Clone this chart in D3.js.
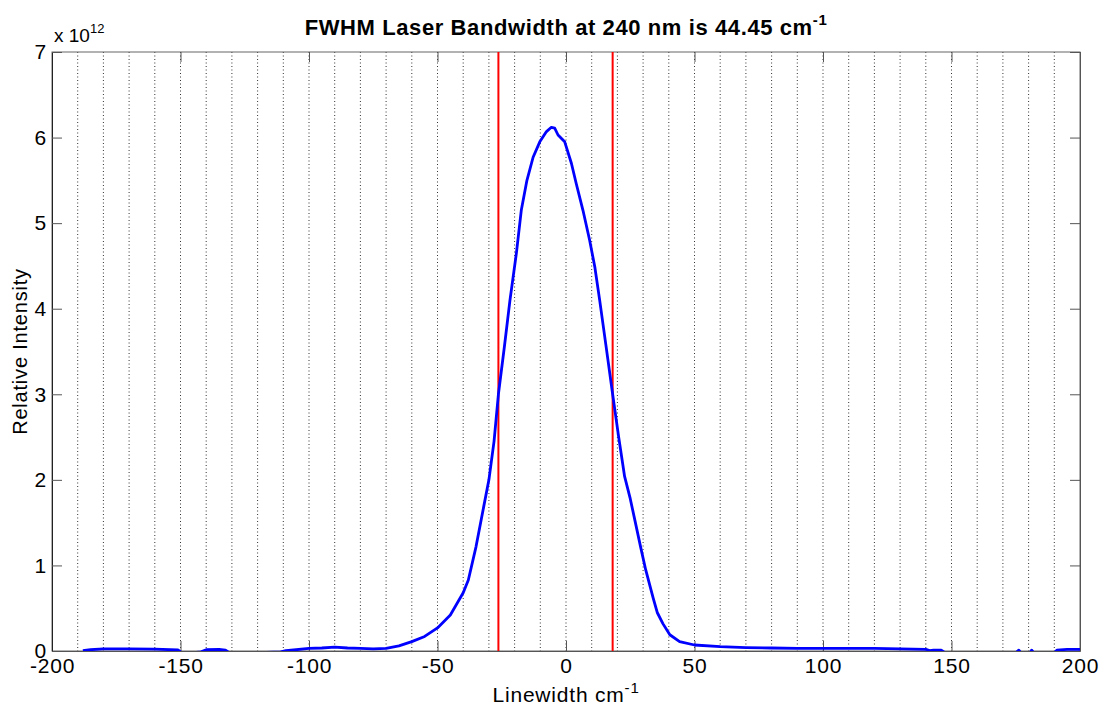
<!DOCTYPE html>
<html>
<head>
<meta charset="utf-8">
<script src="https://cdn.jsdelivr.net/npm/d3@7"></script>
<style>
  body { margin: 0; background: #fff; }
  svg { display: block; font-family: "Liberation Sans", Arial, sans-serif; }
</style>
</head>
<body>
<svg width="1101" height="710"></svg>
<script>
// wavenumber offset (cm^-1) and intensity (x 10^12)
const waveNumber = [-188, -185, -180, -170, -160, -151, -149.5, -145, -142, -140, -135, -132.5, -131, -120, -111,
    -109, -105, -100, -95, -90, -85, -80, -75, -70, -65, -60, -55, -50, -45, -40, -38, -35, -32, -30, -28,
    -26.3, -24, -21.8, -19.3, -17.4, -15.2, -12.8, -10.2, -7.6, -5.7, -4.4, -3.1, -0.5, 2.1, 4.0, 6.6, 9.2,
    11.2, 13.1, 15.5, 18.15, 20.5, 22.8, 25, 27, 29, 31, 33.9, 35.5, 37.7, 40.4, 44.2, 50, 60, 70, 80, 90, 100,
    110, 120, 130, 140, 141.5, 143, 146, 147.5, 175, 176.2, 177, 180.5, 181.2, 182, 190, 191, 195, 200];
const intensity = [0.005, 0.015, 0.025, 0.025, 0.022, 0.012, -0.02, -0.02, -0.01, 0.015, 0.02, 0.01, -0.02, -0.02, -0.01,
    0.005, 0.015, 0.03, 0.035, 0.045, 0.035, 0.03, 0.025, 0.03, 0.06, 0.11, 0.17, 0.27, 0.42, 0.68, 0.83, 1.22, 1.69, 2.0, 2.45,
    3.0, 3.55, 4.10, 4.65, 5.15, 5.50, 5.77, 5.95, 6.07, 6.12, 6.11, 6.03, 5.95, 5.70, 5.46, 5.15, 4.80,
    4.49, 4.10, 3.58, 3.0, 2.5, 2.04, 1.78, 1.5, 1.22, 0.95, 0.62, 0.45, 0.32, 0.19, 0.11, 0.07, 0.05, 0.04, 0.035, 0.03, 0.03,
    0.03, 0.03, 0.025, 0.02, 0.005, 0.01, 0.01, -0.02, -0.02, 0.01, -0.02, -0.02, 0.01, -0.02, -0.02, 0.01, 0.02, 0.02];

// FWHM markers
const fwhmLines = [-26.3, 18.15];

const xTicks = [-200, -150, -100, -50, 0, 50, 100, 150, 200];
const yTicks = [0, 1, 2, 3, 4, 5, 6, 7];
const gridLines = d3.range(-190, 200, 10);

const svg = d3.select('svg');
const width = +svg.attr('width');
const height = +svg.attr('height');

const margin = {top: 52, right: 21, bottom: 59, left: 52};
const innerWidth = width - margin.left - margin.right;
const innerHeight = height - margin.top - margin.bottom;

const xScale = d3.scaleLinear().domain([-200, 200]).range([0, innerWidth]);
const yScale = d3.scaleLinear().domain([0, 7]).range([innerHeight, 0]);

const g = svg.append('g')
    .attr('transform', `translate(${margin.left},${margin.top})`);

svg.append('defs').append('clipPath').attr('id', 'plotclip')
    .append('rect').attr('width', innerWidth).attr('height', innerHeight);

// dotted vertical grid
g.selectAll('.grid')
    .data(gridLines)
    .enter().append('line')
        .attr('x1', d => xScale(d)).attr('x2', d => xScale(d))
        .attr('y1', 0).attr('y2', innerHeight)
        .attr('stroke', '#333')
        .attr('stroke-width', 1)
        .attr('stroke-dasharray', '1,2.5');

// box
g.append('rect')
    .attr('width', innerWidth).attr('height', innerHeight)
    .attr('fill', 'none').attr('stroke', '#666');

const tickFont = g => g.selectAll('text')
    .attr('font-size', 21)
    .attr('letter-spacing', 0.8)
    .attr('fill', '#000')
    .attr('font-family', '"Liberation Sans", Arial, sans-serif');

const plain = d => String(d);

// axes, matlab style inward ticks
g.append('g')
    .attr('transform', `translate(0,${innerHeight})`)
    .call(d3.axisBottom(xScale).tickValues(xTicks).tickFormat(plain).tickSize(-10).tickPadding(7).tickSizeOuter(0))
    .call(tickFont)
    .call(a => a.select('.domain').attr('stroke', '#555'))
    .call(a => a.selectAll('.tick line').attr('stroke', '#555'));

g.append('g')
    .call(d3.axisTop(xScale).tickValues(xTicks).tickSize(-10).tickSizeOuter(0))
    .call(a => a.select('.domain').remove())
    .call(a => a.selectAll('.tick text').remove())
    .call(a => a.selectAll('.tick line').attr('stroke', '#555'));

g.append('g')
    .call(d3.axisLeft(yScale).tickValues(yTicks).tickFormat(plain).tickSize(-10).tickPadding(5).tickSizeOuter(0))
    .call(tickFont)
    .call(a => a.select('.domain').attr('stroke', '#222'))
    .call(a => a.selectAll('.tick line').attr('stroke', '#555'));

g.append('g')
    .attr('transform', `translate(${innerWidth},0)`)
    .call(d3.axisRight(yScale).tickValues(yTicks).tickSize(-10).tickSizeOuter(0))
    .call(a => a.select('.domain').attr('stroke', '#555'))
    .call(a => a.selectAll('.tick text').remove())
    .call(a => a.selectAll('.tick line').attr('stroke', '#555'));

// exponent label
const expo = g.append('text')
    .attr('x', 2).attr('y', -10)
    .attr('font-size', 19);
expo.append('tspan').text('x 10');
expo.append('tspan').attr('dy', -9).attr('font-size', 13).text('12');

// red FWHM lines
g.selectAll('.fwhm')
    .data(fwhmLines)
    .enter().append('line')
        .attr('x1', d => xScale(d)).attr('x2', d => xScale(d))
        .attr('y1', 0).attr('y2', innerHeight)
        .attr('stroke', '#ff0000')
        .attr('stroke-width', 2);

// spectrum
const points = waveNumber.map((w, i) => [w, intensity[i]]);
g.append('path')
    .datum(points)
    .attr('clip-path', 'url(#plotclip)')
    .attr('fill', 'none')
    .attr('stroke', '#0000ff')
    .attr('stroke-width', 2.8)
    .attr('stroke-linejoin', 'round')
    .attr('d', d3.line().x(d => xScale(d[0])).y(d => yScale(d[1])));

// labels
const xl = g.append('text')
    .attr('x', innerWidth / 2).attr('y', innerHeight + 51)
    .attr('text-anchor', 'middle')
    .attr('font-size', 21)
    .attr('letter-spacing', 0.8);
xl.append('tspan').text('Linewidth cm');
xl.append('tspan').attr('dy', -9).attr('font-size', 15).text('-1');

g.append('text')
    .attr('transform', `translate(-25,${innerHeight / 2})rotate(-90)`)
    .attr('text-anchor', 'middle')
    .attr('font-size', 20)
    .attr('letter-spacing', 0.8)
    .text('Relative Intensity');

const title = svg.append('text')
    .attr('x', margin.left + innerWidth / 2).attr('y', 35)
    .attr('text-anchor', 'middle')
    .attr('font-size', 22)
    .attr('letter-spacing', 0.6)
    .attr('font-weight', 'bold');
title.append('tspan').text('FWHM Laser Bandwidth at 240 nm is 44.45 cm');
title.append('tspan').attr('dy', -10).attr('font-size', 15).text('-1');
</script>
</body>
</html>
